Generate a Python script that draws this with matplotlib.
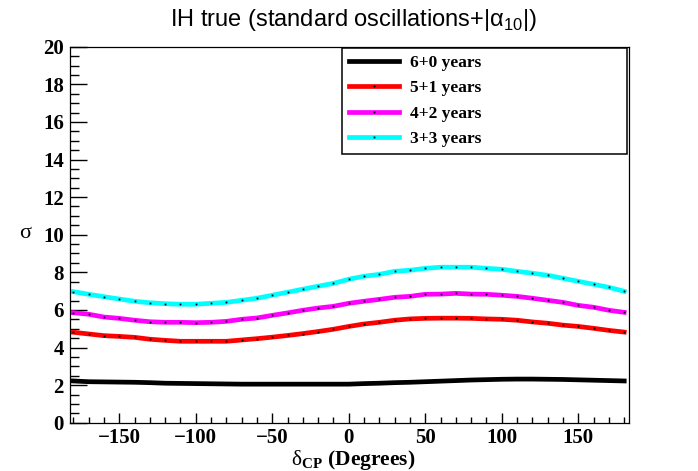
import numpy as np
import matplotlib
matplotlib.use("Agg")
import matplotlib.pyplot as plt
from matplotlib.ticker import MultipleLocator

plt.rcParams['mathtext.fontset'] = 'custom'
plt.rcParams['mathtext.rm'] = 'Liberation Serif'
plt.rcParams['mathtext.sf'] = 'Liberation Sans'
plt.rcParams['mathtext.bf'] = 'Liberation Serif:bold'

# delta_CP grid (degrees)
delta_cp = np.arange(-180, 181, 10)

# sigma values
sig_6_0 = [2.22, 2.18, 2.17, 2.16, 2.15, 2.13, 2.10, 2.09, 2.08, 2.07,
           2.06, 2.05, 2.05, 2.05, 2.05, 2.05, 2.05, 2.05, 2.05, 2.08,
           2.10, 2.13, 2.15, 2.18, 2.21, 2.24, 2.27, 2.29, 2.31, 2.32,
           2.32, 2.31, 2.30, 2.28, 2.26, 2.24, 2.22]
sig_5_1 = [4.81, 4.72, 4.63, 4.59, 4.54, 4.44, 4.38, 4.33, 4.33, 4.33,
           4.33, 4.40, 4.47, 4.55, 4.64, 4.74, 4.85, 4.97, 5.12, 5.25,
           5.34, 5.45, 5.52, 5.55, 5.56, 5.56, 5.55, 5.52, 5.50, 5.45,
           5.36, 5.29, 5.19, 5.12, 5.02, 4.91, 4.82]
sig_4_2 = [5.85, 5.77, 5.62, 5.55, 5.45, 5.37, 5.34, 5.34, 5.32, 5.34,
           5.39, 5.50, 5.57, 5.71, 5.84, 5.98, 6.10, 6.19, 6.35, 6.46,
           6.56, 6.67, 6.72, 6.83, 6.84, 6.88, 6.84, 6.83, 6.78, 6.72,
           6.62, 6.51, 6.40, 6.24, 6.14, 5.98, 5.87]
sig_3_3 = [6.97, 6.83, 6.70, 6.58, 6.46, 6.38, 6.33, 6.30, 6.30, 6.35,
           6.40, 6.51, 6.62, 6.78, 6.94, 7.10, 7.26, 7.41, 7.63, 7.79,
           7.89, 8.05, 8.11, 8.21, 8.27, 8.27, 8.27, 8.21, 8.16, 8.05,
           7.95, 7.84, 7.68, 7.52, 7.36, 7.20, 6.99]

series = [(sig_6_0, 'black', '6+0 years'),
          (sig_5_1, 'red', '5+1 years'),
          (sig_4_2, 'magenta', '4+2 years'),
          (sig_3_3, 'cyan', '3+3 years')]

W, H = 698, 471
fig = plt.figure(figsize=(W / 100, H / 100), dpi=100)
ax = fig.add_axes([69.5 / W, 1 - 422.7 / H, 559 / W, 376 / H])

for vals, col, lab in series:
    ax.plot(delta_cp, vals, color=col, lw=3.4, label=lab,
            marker='s', ms=1.3, mfc='black', mec='none')

ax.set_xlim(-182.5, 182.8)
ax.set_ylim(0, 20)
ax.xaxis.set_major_locator(MultipleLocator(50))
ax.xaxis.set_minor_locator(MultipleLocator(10))
ax.yaxis.set_major_locator(MultipleLocator(2))
ax.yaxis.set_minor_locator(MultipleLocator(0.5))
ax.tick_params(which='both', direction='in', top=False, right=False,
               width=1.0)
ax.tick_params(axis='y', which='major', length=12.5, pad=4)
ax.tick_params(axis='y', which='minor', length=6.5)
ax.tick_params(axis='x', which='major', length=7.5, pad=4)
ax.tick_params(axis='x', which='minor', length=4)
for lbl in ax.get_xticklabels() + ax.get_yticklabels():
    lbl.set_family('Liberation Serif')
    lbl.set_weight('bold')
    lbl.set_size(15)
for sp in ax.spines.values():
    sp.set_linewidth(0.9)

fig.text(353 / W, 1 - 20 / H,
         r'IH true (standard oscillations+|α$_{\mathsf{10}}$|)',
         ha='center', va='center', family='Liberation Sans', size=17)
fig.text(353 / W, 1 - 465 / H, r'$\mathrm{δ}_{\mathbf{CP}}$ (Degrees)',
         ha='center', va='baseline', family='Liberation Serif',
         weight='bold', size=15.5)
fig.text(25 / W, 1 - 233 / H, 'σ', ha='center', va='center',
         family='Liberation Serif', size=16)

leg = ax.legend(loc='upper left', mode='expand',
                bbox_to_anchor=(342 / W, 1 - 153 / H, 285 / W, 105 / H),
                bbox_transform=fig.transFigure, borderaxespad=0,
                fancybox=False, edgecolor='black', framealpha=1,
                handlelength=2.9, handletextpad=0.6, labelspacing=0.53,
                borderpad=0.4,
                prop={'family': 'Liberation Serif', 'weight': 'bold',
                      'size': 12.5})
leg.get_frame().set_linewidth(1.1)

fig.savefig('out.png', dpi=100)
